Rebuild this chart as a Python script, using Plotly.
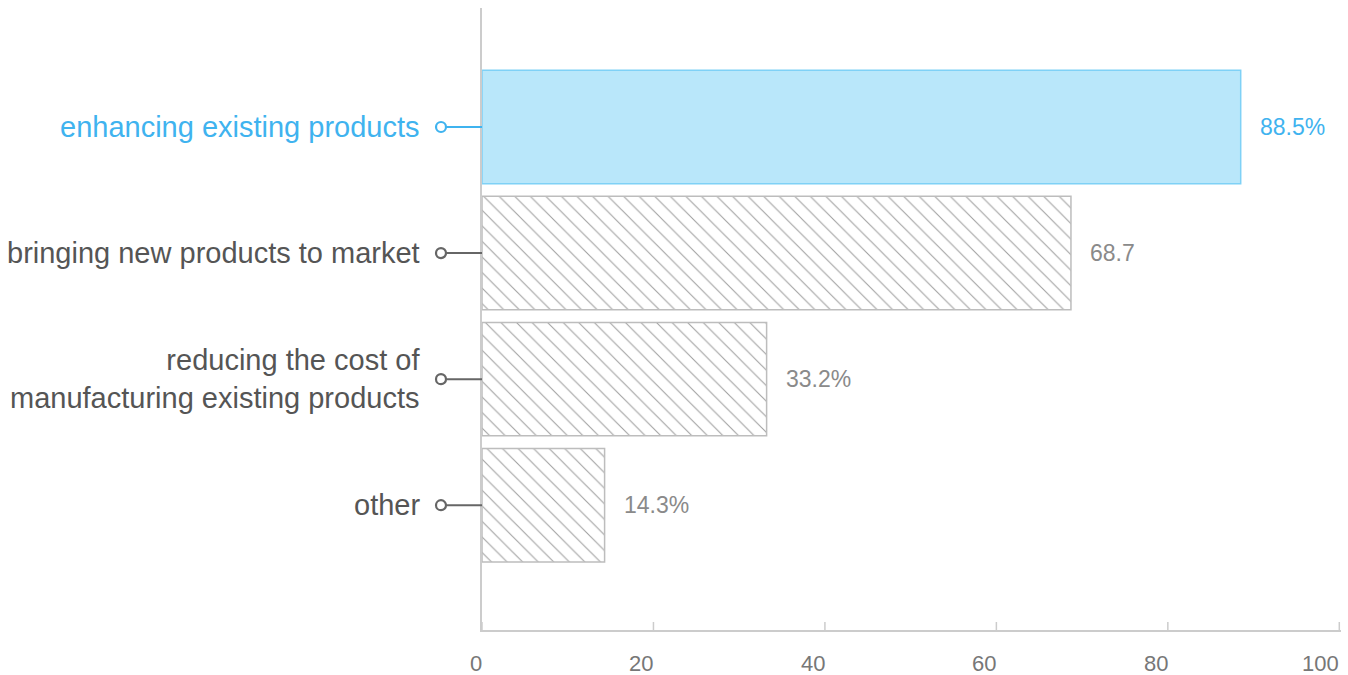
import plotly.graph_objects as go

# Survey categories and their shares (percent)
categories = [
    "enhancing existing products",
    "bringing new products to market",
    "reducing the cost of<br>manufacturing existing products",
    "other",
]
values = [88.5, 68.7, 33.2, 14.3]
value_labels = ["88.5%", "68.7", "33.2%", "14.3%"]
x_ticks = [0, 20, 40, 60, 80, 100]
x_tick_labels = ["0", "20", "40", "60", "80", "100"]

BLUE = "#3fb3ef"
GRAY_TEXT = "#555555"
GRAY_VALUE = "#8a8a8a"
AXIS = "#cccccc"
FONT = "Liberation Sans, Arial, sans-serif"

positions = list(range(len(categories)))
highlight = [i == 0 for i in positions]

fig = go.Figure()
fig.add_trace(go.Bar(
    x=values,
    y=positions,
    orientation="h",
    width=0.9,
    marker=dict(
        color=["#b9e7fa" if h else "white" for h in highlight],
        line=dict(color=["#7fd1f6" if h else "#bdbdbd" for h in highlight], width=1.5),
        pattern=dict(
            shape=["" if h else "\\" for h in highlight],
            fgcolor="#b4b4b4",
            size=11,
            solidity=0.1,
        ),
    ),
    hoverinfo="skip",
    showlegend=False,
))

annotations = []
shapes = []
for i, (cat, val, lab) in enumerate(zip(categories, values, value_labels)):
    col = BLUE if highlight[i] else GRAY_TEXT
    # category label to the left of the axis
    annotations.append(dict(
        x=0, y=i, xref="x", yref="y", text=cat, showarrow=False,
        xanchor="right", yanchor="middle", align="right", xshift=-60,
        font=dict(family=FONT, size=29, color=col),
    ))
    # value label past the bar end
    annotations.append(dict(
        x=val, y=i, xref="x", yref="y", text=lab, showarrow=False,
        xanchor="left", yanchor="middle", xshift=17,
        font=dict(family=FONT, size=23,
                  color=BLUE if highlight[i] else GRAY_VALUE),
    ))
    # connector stem and open circle marker
    stem_col = BLUE if highlight[i] else "#666666"
    shapes.append(dict(
        type="line", xref="paper", yref="y", xsizemode="pixel", xanchor=0,
        x0=-36, x1=0, y0=i, y1=i,
        line=dict(color=stem_col, width=2), layer="above",
    ))
    shapes.append(dict(
        type="circle", xref="paper", yref="y", xsizemode="pixel", ysizemode="pixel",
        xanchor=0, yanchor=i, x0=-46, x1=-36, y0=-5, y1=5,
        fillcolor="white", line=dict(color=stem_col, width=2.2), layer="above",
    ))

# x tick marks (pointing up from the axis) and their labels, set left of each tick
for tv, tl in zip(x_ticks, x_tick_labels):
    shapes.append(dict(
        type="line", xref="x", yref="paper", ysizemode="pixel", yanchor=0,
        x0=tv, x1=tv, y0=0, y1=8,
        line=dict(color=AXIS, width=1.5), layer="above",
    ))
    annotations.append(dict(
        x=tv, y=0, xref="x", yref="paper", text=tl, showarrow=False,
        xanchor="right", yanchor="middle", yshift=-33, xshift=2,
        font=dict(family=FONT, size=22, color="#777777"),
    ))

fig.update_layout(
    width=1348, height=675,
    margin=dict(l=482, r=7, t=8, b=45, autoexpand=False),
    paper_bgcolor="white", plot_bgcolor="white",
    annotations=annotations,
    shapes=shapes,
    xaxis=dict(
        range=[0, 100.2], showticklabels=False, ticks="",
        showgrid=False, zeroline=False,
        showline=True, linecolor=AXIS, linewidth=1.5, automargin=False,
    ),
    yaxis=dict(
        range=[3.99, -0.944], showticklabels=False, ticks="", showgrid=False,
        zeroline=False, showline=True, linecolor=AXIS, linewidth=1.5,
        automargin=False,
    ),
)

fig.write_html("out.html")
